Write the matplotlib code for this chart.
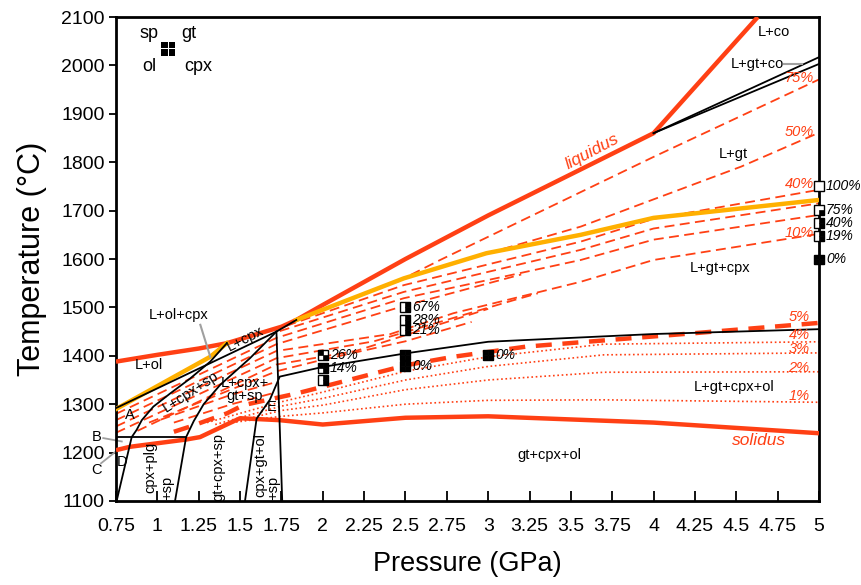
import numpy as np
import matplotlib
matplotlib.use("Agg")
import matplotlib.pyplot as plt
from matplotlib.patches import Rectangle

# ---- phase boundaries (P in GPa, T in C) ----
liquidus_P = [0.75, 1.0, 1.25, 1.42, 1.75, 1.84, 2.0, 2.5, 3.0, 4.0, 4.63]
liquidus_T = [1388, 1402, 1415, 1426, 1460, 1474, 1505, 1600, 1690, 1860, 2100]

solidus_P = [0.75, 0.835, 1.174, 1.258, 1.5, 1.74, 2.0, 2.5, 3.0, 4.0, 5.0]
solidus_T = [1205, 1212, 1227, 1232, 1271, 1267, 1258, 1272, 1275, 1262, 1240]

orange_left_P = [0.75, 1.32, 1.42]
orange_left_T = [1290, 1398, 1426]
orange_right_P = [1.84, 2.49, 2.99, 3.56, 4.0, 5.0]
orange_right_T = [1474, 1560, 1612, 1650, 1685, 1722]

black_lines = {
    "top": ([0.75, 1.72, 1.84], [1292, 1450, 1474]),
    "a": ([1.42, 1.32, 1.198, 1.077, 0.976, 0.906, 0.875, 0.845, 0.754],
          [1426, 1388, 1353, 1322, 1295, 1267, 1247, 1232, 1100]),
    "b": ([1.72, 1.56, 1.38, 1.28, 1.22, 1.174, 1.107],
          [1450, 1395, 1340, 1300, 1265, 1232, 1100]),
    "c": ([1.53, 1.60, 1.68, 1.74, 2.0, 2.5, 3.0, 4.0, 5.0],
          [1100, 1270, 1309, 1357, 1377, 1405, 1429, 1445, 1455]),
    "d": ([1.72, 1.74, 1.755], [1450, 1253, 1100]),
    "B": ([0.75, 1.174], [1232, 1232]),
    "co1": ([4.0, 5.0], [1860, 2017]),
    "co2": ([4.0, 5.0], [1860, 2003]),
}

# ---- melt fraction isopleths ----
dashed_lines = [
    ([2.45, 2.71, 4.0, 5.0], [1553, 1598, 1811, 1971]),                       # 75%
    ([3.0, 3.56, 4.53, 5.0], [1612, 1667, 1791, 1861]),                       # 50%
    ([1.78, 2.49, 3.56, 4.0, 5.0], [1462, 1546, 1636, 1683, 1743]),           # 40%
    ([1.74, 2.49, 3.56, 4.0, 5.0], [1451, 1532, 1619, 1663, 1715]),           # 30%
    ([0.75, 1.72, 2.49, 3.56, 4.0, 5.0], [1280, 1437, 1519, 1598, 1640, 1691]),
    ([0.75, 1.72, 2.49, 3.2], [1267, 1424, 1503, 1568]),
    ([0.75, 1.72, 2.41, 2.79, 3.56, 4.0, 5.0], [1254, 1410, 1445, 1488, 1553, 1598, 1652]),  # 10%
    ([0.75, 1.72, 2.31, 3.155, 3.3], [1241, 1395, 1430, 1515, 1529]),
    ([0.88, 1.72, 2.2, 3.0], [1245, 1382, 1410, 1497]),
    ([0.95, 1.72, 2.0, 2.5, 2.9], [1262, 1368, 1392, 1430, 1470]),
    ([1.02, 1.45, 1.71], [1268, 1320, 1345]),
    ([1.1, 1.45, 1.69], [1262, 1300, 1322]),
]
five_P = [1.1, 1.2, 1.42, 1.52, 1.84, 2.0, 2.35, 2.51, 2.79, 3.23, 4.22, 5.0]
five_T = [1243, 1254, 1281, 1298, 1322, 1336, 1367, 1381, 1398, 1419, 1446, 1468]
dotted_lines = [
    ([1.3, 1.75, 2.0, 2.5, 3.0, 3.7, 5.0], [1262, 1305, 1325, 1368, 1398, 1424, 1429]),  # 4%
    ([1.35, 1.75, 2.0, 2.5, 3.0, 3.7, 5.0], [1258, 1296, 1312, 1350, 1378, 1402, 1406]),  # 3%
    ([1.4, 1.75, 2.0, 2.5, 3.0, 3.7, 5.0], [1258, 1287, 1298, 1330, 1350, 1366, 1367]),  # 2%
    ([1.45, 1.75, 2.0, 2.5, 3.0, 3.7, 5.0], [1262, 1275, 1282, 1300, 1308, 1309, 1304]),  # 1%
]
pct_labels = ["75%", "50%", "40%", "10%", "5%", "4%", "3%", "2%", "1%"]
pct_T = [1973, 1863, 1755, 1653, 1481, 1443, 1415, 1374, 1316]

# ---- experiment squares: quadrants sp, gt, ol, cpx ----
sample_P = [2.0, 2.0, 2.0, 2.5, 2.5, 2.5, 2.5, 2.5, 3.0, 5.0, 5.0, 5.0, 5.0, 5.0]
sample_T = [1402, 1374, 1350, 1501, 1474, 1453, 1402, 1378, 1402, 1751, 1701, 1675, 1648, 1599]
sample_pat = ["1001", "1101", "0101", "0101", "0101", "0101", "1111", "1111", "1111",
              "0000", "0001", "0101", "0101", "1111"]
sample_lab = ["26%", "14%", "", "67%", "28%", "21%", "", "0%", "0%",
              "100%", "75%", "40%", "19%", "0%"]

regions = [
    ("L+co", 4.73, 2069, 0), ("L+gt+co", 4.63, 2003, 0), ("L+gt", 4.48, 1818, 0),
    ("L+gt+cpx", 4.40, 1581, 0), ("L+gt+cpx+ol", 4.49, 1335, 0), ("gt+cpx+ol", 3.37, 1195, 0),
    ("L+ol+cpx", 1.127, 1484, 0), ("L+ol", 0.946, 1381, 0), ("L+cpx", 1.53, 1435, 27),
    ("L+cpx+sp", 1.20, 1326, 33), ("L+cpx+\ngt+sp", 1.53, 1330, 0), ("E", 1.69, 1295, 0),
    ("A", 0.835, 1278, 0), ("D", 0.785, 1181, 0),
    ("cpx+plg", 0.955, 1170, 90), ("+sp", 1.06, 1128, 90), ("gt+cpx+sp", 1.37, 1171, 90),
    ("cpx+gt+ol", 1.62, 1175, 90), ("+sp", 1.70, 1128, 90),
]

red = "#ff4014"
sans = ["Liberation Sans", "DejaVu Sans"]
fig = plt.figure(figsize=(8.61, 5.85), dpi=100)
ax = fig.add_axes([0.1347, 0.1436, 0.8165, 0.8273])

ax.plot(solidus_P, solidus_T, color=red, lw=3.2, solid_capstyle="butt", zorder=3)
ax.plot(liquidus_P, liquidus_T, color=red, lw=3.2, solid_capstyle="butt", zorder=3)
ax.plot(orange_left_P, orange_left_T, color="#ffb000", lw=3.2, zorder=3)
ax.plot(orange_right_P, orange_right_T, color="#ffb000", lw=3.2, zorder=3)

for px, ty in dashed_lines:
    ax.plot(px, ty, color=red, lw=1.3, dashes=(5.5, 3), zorder=2)
ax.plot(five_P, five_T, color=red, lw=3.2, dashes=(3.6, 2.4), zorder=2)
for px, ty in dotted_lines:
    ax.plot(px, ty, color=red, lw=1.2, dashes=(1, 1.6), zorder=2)

for k in black_lines:
    px, ty = black_lines[k]
    ax.plot(px, ty, color="k", lw=1.3, zorder=4)

for lab, t in zip(pct_labels, pct_T):
    ax.text(4.88, t, lab, color=red, fontsize=10.5, style="italic", ha="center", va="center",
            zorder=6, family=sans)
ax.text(3.63, 1822, "liquidus", color=red, fontsize=12.5, style="italic", rotation=28,
        ha="center", va="center", family=sans)
ax.text(4.64, 1226, "solidus", color=red, fontsize=12.5, style="italic", ha="center",
        va="center", family=sans)

for lab, px, ty, rot in regions:
    ax.text(px, ty, lab, fontsize=10.5, ha="center", va="center", rotation=rot,
            linespacing=0.9, zorder=6, family=sans)

# gray leader lines
gray = "#a0a0a0"
ax.plot([4.79, 4.90], [2002, 2002], color=gray, lw=1.5, zorder=5)
ax.plot([1.26, 1.32], [1464, 1398], color=gray, lw=1.5, zorder=5)
ax.plot([0.673, 0.785], [1230, 1223], color=gray, lw=1.3, clip_on=False)
ax.plot([0.66, 0.774], [1178, 1209], color=gray, lw=1.3, clip_on=False)
ax.text(0.633, 1233, "B", fontsize=10.5, ha="center", va="center", family=sans)
ax.text(0.633, 1164, "C", fontsize=10.5, ha="center", va="center", family=sans)

# experiment squares
w, h = 0.06, 20.5
for px, ty, pat, lab in zip(sample_P, sample_T, sample_pat, sample_lab):
    ax.add_patch(Rectangle((px - w / 2, ty - h / 2), w, h, fc="white", ec="k", lw=1.0,
                           zorder=7, clip_on=False))
    offs = [(-1, 0), (0, 0), (-1, -1), (0, -1)]
    for q, (ox, oy) in zip(pat, offs):
        if q == "1":
            ax.add_patch(Rectangle((px + ox * w / 2, ty + oy * h / 2), w / 2, h / 2,
                                   fc="k", ec="k", lw=0.5, zorder=8, clip_on=False))
    if lab:
        ax.text(px + 0.042, ty, lab, fontsize=10, style="italic", ha="left", va="center",
                zorder=8, clip_on=False, family=sans)

# legend key
lw_, lh_ = 0.046, 15.5
for ox, oy in [(-1, 0), (0, 0), (-1, -1), (0, -1)]:
    ax.add_patch(Rectangle((1.065 + ox * lw_ + 0.003, 2034 + oy * lh_ + 1), lw_ - 0.006, lh_ - 2,
                           fc="k", ec="none", zorder=8))
for lab, px, ty in [("sp", 0.95, 2065), ("gt", 1.19, 2065), ("ol", 0.95, 1997), ("cpx", 1.25, 1997)]:
    ax.text(px, ty, lab, fontsize=13, ha="center", va="center", family=sans)

ax.set_xlim(0.75, 5)
ax.set_ylim(1100, 2100)
xt = np.arange(0.75, 5.01, 0.25)
ax.set_xticks(xt)
ax.set_xticklabels([f"{v:g}" for v in xt])
ax.set_yticks(np.arange(1100, 2101, 100))
for lbl in ax.get_xticklabels() + ax.get_yticklabels():
    lbl.set_family(sans)
    lbl.set_fontsize(14)
ax.tick_params(axis="x", direction="in", length=7, width=1.3, pad=12)
ax.tick_params(axis="y", direction="out", length=5, width=1.3, pad=3)
for s in ax.spines.values():
    s.set_linewidth(2)

ax.set_xlabel("Pressure (GPa)", fontsize=19.5, family=sans, labelpad=12)
ax.set_ylabel("Temperature (°C)", fontsize=22, family=sans, labelpad=10)

fig.savefig("out.png", dpi=100)
